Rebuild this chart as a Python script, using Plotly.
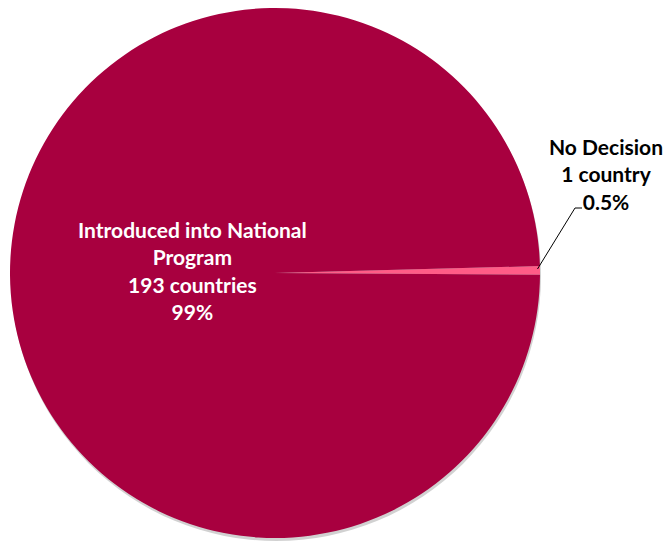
import plotly.graph_objects as go

labels = ["No Decision", "Introduced into National<br>Program"]
values = [1, 193]
unit_labels = ["country", "countries"]
pct_labels = ["0.5%", "99%"]
colors = ["#FF5C87", "#A8003F"]

W, H = 670, 544
cx, cy, r = 275, 273, 265

fig = go.Figure()
fig.add_trace(go.Pie(
    labels=labels,
    values=values,
    sort=False,
    direction="counterclockwise",
    rotation=88.5,
    marker=dict(colors=colors, line=dict(width=0)),
    textinfo="none",
    hoverinfo="label+value+percent",
    showlegend=False,
    domain=dict(x=[(cx - r) / W, (cx + r) / W], y=[1 - (cy + r) / H, 1 - (cy - r) / H]),
))

def px(x):
    return x / W

def py(y):
    return 1 - y / H

# soft shadow behind pie
fig.add_shape(type="circle", xref="paper", yref="paper", layer="below",
              x0=px(cx - r + 1), x1=px(cx + r + 1), y0=py(cy + r + 3), y1=py(cy - r + 3),
              fillcolor="rgba(0,0,0,0.18)", line=dict(width=0))

font_family = "Lato, 'Open Sans', sans-serif"

def label_text(i):
    return f"<b>{labels[i]}<br>{values[i]} {unit_labels[i]}<br>{pct_labels[i]}</b>"

fig.add_annotation(x=px(193), y=py(270), xref="paper", yref="paper",
                   xanchor="center", yanchor="middle",
                   text=label_text(1), showarrow=False, align="center",
                   font=dict(family=font_family, size=21, color="white"))

fig.add_annotation(x=px(606), y=py(174), xref="paper", yref="paper",
                   xanchor="center", yanchor="middle",
                   text=label_text(0), showarrow=False, align="center",
                   font=dict(family=font_family, size=21, color="black"))

# leader line
fig.add_shape(type="path", xref="paper", yref="paper",
              path=f"M {px(537.5)} {py(269)} L {px(575)} {py(208)} L {px(582)} {py(208)}",
              line=dict(color="black", width=1))

fig.update_layout(width=W, height=H, margin=dict(l=0, r=0, t=0, b=0),
                  paper_bgcolor="white", plot_bgcolor="white")
fig.write_html("out.html", config={"displayModeBar": False},
               post_script="document.body.style.margin='0px';")
